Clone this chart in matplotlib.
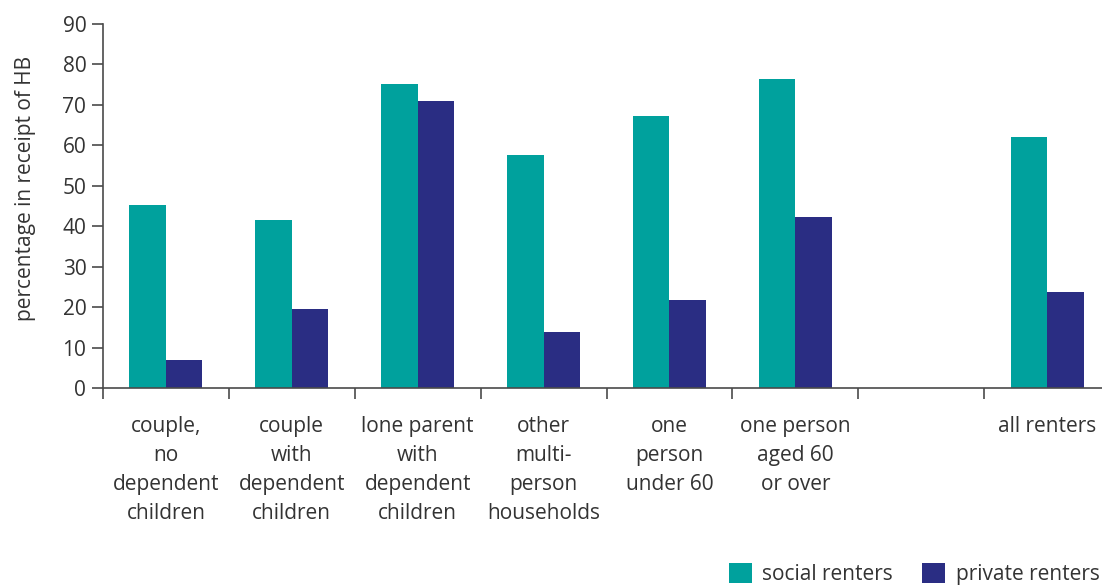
import numpy as np
import matplotlib.pyplot as plt

plt.rcParams['font.family'] = ['Open Sans', 'DejaVu Sans']

categories = ["couple,\nno\ndependent\nchildren",
              "couple\nwith\ndependent\nchildren",
              "lone parent\nwith\ndependent\nchildren",
              "other\nmulti-\nperson\nhouseholds",
              "one\nperson\nunder 60",
              "one person\naged 60\nor over",
              "",
              "all renters"]
social = [45.3, 41.6, 75.2, 57.6, 67.3, 76.4, np.nan, 62.1]
private = [7.0, 19.6, 71.0, 13.9, 21.8, 42.3, np.nan, 23.8]

teal = '#00A19D'
navy = '#2A2D83'
axis_col = '#4a4a4a'
text_col = '#333333'
fs = 15

fig = plt.figure(figsize=(11.02, 5.86), dpi=100)
ax = fig.add_axes([103/1102, 198/586, 1007/1102, 364/586])

x = np.arange(len(categories)) + 0.5
w = 0.29
b1 = ax.bar(x - w/2, social, w, color=teal, label='social renters')
b2 = ax.bar(x + w/2, private, w, color=navy, label='private renters')

ax.set_xlim(0, len(categories))
ax.set_ylim(0, 90)
ax.set_yticks(range(0, 91, 10))
# category boundaries get the tick marks, centres get the labels
ax.set_xticks(np.arange(len(categories) + 1))
ax.set_xticklabels([])
ax.set_xticks(x, minor=True)
ax.set_xticklabels(categories, minor=True, linespacing=1.5)
ax.tick_params(axis='x', which='major', direction='out', length=8, width=1.2, color=axis_col)
ax.tick_params(axis='x', which='minor', length=0, pad=20, labelsize=fs, labelcolor=text_col)
ax.tick_params(axis='y', direction='out', length=8, width=1.2, color=axis_col,
               labelsize=fs, labelcolor=text_col, pad=4)

for s in ['top', 'right']:
    ax.spines[s].set_visible(False)
for s in ['left', 'bottom']:
    ax.spines[s].set_color(axis_col)
    ax.spines[s].set_linewidth(1.2)

ax.set_ylabel('percentage in receipt of HB', fontsize=fs, color=text_col)
ax.yaxis.set_label_coords(-0.067, 0.547)

fig.legend(handles=[b1, b2], loc='upper left', bbox_to_anchor=(729/1102, 23/586),
           ncol=2, frameon=False, fontsize=fs, labelcolor=text_col,
           handlelength=1.1, handleheight=1.1, handletextpad=0.5,
           columnspacing=1.4, borderpad=0, borderaxespad=0)

fig.savefig('out.png', dpi=100)
